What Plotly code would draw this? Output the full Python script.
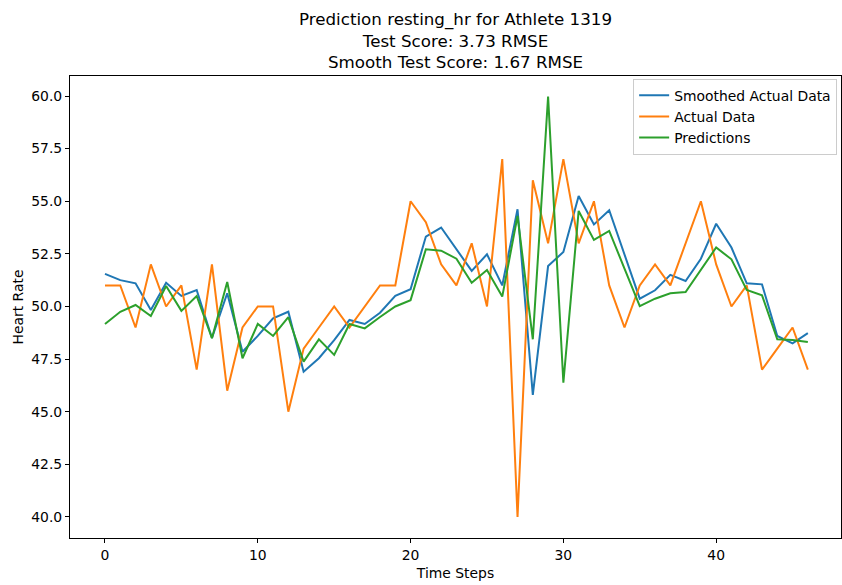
import plotly.graph_objects as go

steps = list(range(47))
smoothed = [51.55, 51.25, 51.1, 49.83, 51.13, 50.5, 50.78, 48.5, 50.63, 47.85,
            48.6, 49.44, 49.75, 46.9, 47.54, 48.4, 49.36, 49.17, 49.7, 50.5,
            50.82, 53.32, 53.75, 52.72, 51.69, 52.48, 51.0, 54.62, 45.8, 51.92,
            52.59, 55.25, 53.9, 54.57, 52.48, 50.37, 50.77, 51.5, 51.21, 52.27,
            53.93, 52.8, 51.1, 51.05, 48.6, 48.25, 48.73]
actual = [51, 51, 49, 52, 50, 51, 47, 52, 46, 49,
          50, 50, 45, 48, 49, 50, 49, 50, 51, 51,
          55, 54, 52, 51, 53, 50, 57, 40, 56, 53,
          57, 53, 55, 51, 49, 51, 52, 51, 53, 55,
          52, 50, 51, 47, 48, 49, 47]
predictions = [49.17, 49.75, 50.07, 49.55, 50.97, 49.79, 50.5, 48.49, 51.16, 47.54,
               49.17, 48.6, 49.49, 47.38, 48.44, 47.7, 49.17, 48.96, 49.5, 50.0,
               50.3, 52.72, 52.65, 52.27, 51.13, 51.73, 50.47, 54.3, 48.44, 59.97,
               46.38, 54.54, 53.16, 53.59, 51.8, 50.02, 50.37, 50.63, 50.69, 51.77,
               52.8, 52.24, 50.78, 50.53, 48.44, 48.41, 48.31]

x_ticks = [0, 10, 20, 30, 40]
y_ticks = [40.0, 42.5, 45.0, 47.5, 50.0, 52.5, 55.0, 57.5, 60.0]

FONT = "DejaVu Sans"
fig = go.Figure()
fig.add_trace(go.Scatter(x=steps, y=smoothed, mode="lines", name="Smoothed Actual Data",
                         line=dict(color="#1f77b4", width=2)))
fig.add_trace(go.Scatter(x=steps, y=actual, mode="lines", name="Actual Data",
                         line=dict(color="#ff7f0e", width=2)))
fig.add_trace(go.Scatter(x=steps, y=predictions, mode="lines", name="Predictions",
                         line=dict(color="#2ca02c", width=2)))

fig.update_layout(
    width=842, height=585,
    margin=dict(l=70, r=1, t=76, b=47),
    paper_bgcolor="white", plot_bgcolor="white",
    font=dict(family=FONT, size=13.9, color="black"),
    title=dict(text="Prediction resting_hr for Athlete 1319<br>Test Score: 3.73 RMSE<br>Smooth Test Score: 1.67 RMSE",
               x=0.5, xanchor="center", xref="paper", yref="container",
               y=1 - 25/585, yanchor="top", font=dict(size=16.7, family=FONT)),
    showlegend=True,
    legend=dict(x=0.995, y=0.994, xanchor="right", yanchor="top",
                bgcolor="rgba(255,255,255,0.8)", bordercolor="#cccccc", borderwidth=1,
                font=dict(size=13.9, family=FONT), tracegroupgap=0),
)
fig.update_xaxes(range=[-2.29, 48.17], tickvals=x_ticks, ticktext=[str(v) for v in x_ticks],
                 showgrid=False, zeroline=False, showline=True, mirror=True,
                 linecolor="black", linewidth=1, ticks="outside", ticklen=4, tickcolor="black",
                 title=dict(text="Time Steps", standoff=6, font=dict(size=13.9)))
fig.update_yaxes(range=[39.0, 60.95], tickvals=y_ticks, ticktext=[f"{v:.1f}" for v in y_ticks],
                 showgrid=False, zeroline=False, showline=True, mirror=True,
                 linecolor="black", linewidth=1, ticks="outside", ticklen=4, tickcolor="black",
                 title=dict(text="Heart Rate", standoff=4, font=dict(size=13.9)))

fig.write_html("out.html")
